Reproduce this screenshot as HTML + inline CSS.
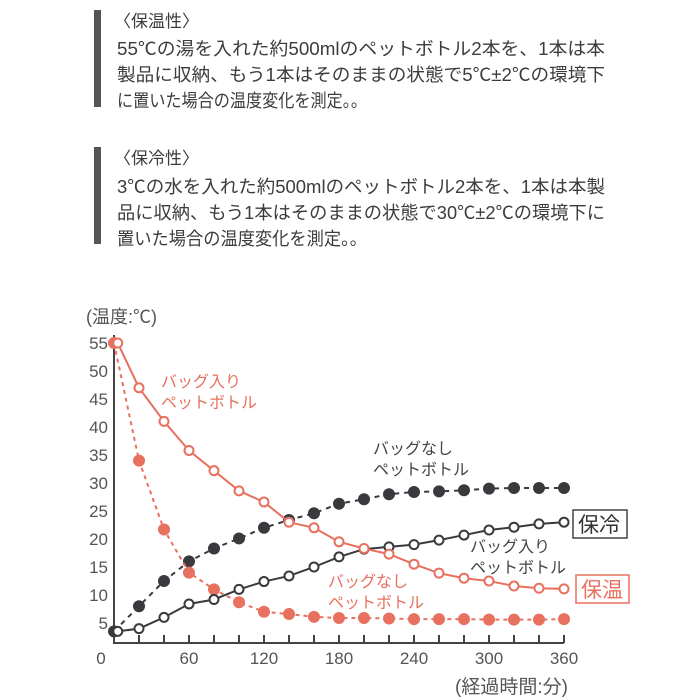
<!DOCTYPE html>
<html><head><meta charset="utf-8"><style>
html,body{margin:0;padding:0;background:#fff;}
svg{display:block;font-family:"Liberation Sans","Noto Sans CJK JP",sans-serif;}
</style></head><body>
<svg id="s" width="700" height="700" viewBox="0 0 700 700">
<rect x="94" y="10" width="7" height="97" fill="#555"/>
<rect x="94" y="147" width="7" height="97" fill="#555"/>
<g fill="#3c3c3c" font-size="18">
<text x="114" y="27" font-size="17">〈保温性〉</text>
<text x="117" y="55" textLength="488" lengthAdjust="spacingAndGlyphs">55℃の湯を入れた約500mlのペットボトル2本を、1本は本</text>
<text x="117" y="81" textLength="488" lengthAdjust="spacingAndGlyphs">製品に収納、もう1本はそのままの状態で5℃±2℃の環境下</text>
<text x="117" y="107" textLength="250" lengthAdjust="spacingAndGlyphs">に置いた場合の温度変化を測定。。</text>
<text x="114" y="164" font-size="17">〈保冷性〉</text>
<text x="117" y="193" textLength="488" lengthAdjust="spacingAndGlyphs">3℃の水を入れた約500mlのペットボトル2本を、1本は本製</text>
<text x="117" y="219" textLength="488" lengthAdjust="spacingAndGlyphs">品に収納、もう1本はそのままの状態で30℃±2℃の環境下に</text>
<text x="117" y="245" textLength="250" lengthAdjust="spacingAndGlyphs">置いた場合の温度変化を測定。。</text>
</g>
<g fill="#555">
<text x="86" y="323" font-size="18">(温度:℃)</text>
<text x="455" y="693" font-size="19">(経過時間:分)</text>
</g>
<g id="ax" stroke="#444" stroke-width="2" fill="none">
<line x1="114" y1="335" x2="114" y2="643"/>
<line x1="113" y1="643" x2="564" y2="643"/>
</g>
<g id="g"></g>
<g font-size="16" fill="#e8705f">
<text x="161" y="387">バッグ入り</text><text x="161" y="408">ペットボトル</text>
<text x="328" y="587">バッグなし</text><text x="328" y="608">ペットボトル</text>
</g>
<g font-size="16" fill="#444">
<text x="373" y="454">バッグなし</text><text x="373" y="475">ペットボトル</text>
<text x="470" y="552">バッグ入り</text><text x="470" y="573">ペットボトル</text>
</g>
<rect x="573" y="510" width="54" height="28" fill="#fff" stroke="#444" stroke-width="1.5"/>
<text x="578" y="532" font-size="21" fill="#333">保冷</text>
<rect x="576" y="575" width="53" height="28" fill="#fff" stroke="#e8705f" stroke-width="1.5"/>
<text x="581" y="597" font-size="21" fill="#e8705f">保温</text>
</svg>
<script>
var NS="http://www.w3.org/2000/svg",g=document.getElementById('g'),ax=document.getElementById('ax');
function X(t){return 114+t*1.25}function Y(v){return 343+(55-v)*5.6}
function el(n,a,p){var e=document.createElementNS(NS,n);for(var k in a)e.setAttribute(k,a[k]);(p||g).appendChild(e);return e}
for(var t=20;t<=360;t+=20)el('line',{x1:X(t),y1:643,x2:X(t),y2:635},ax);
for(var t=0;t<=360;t+=60)el('text',{x:X(t)+(t==0?-13:0),y:664,'text-anchor':'middle','font-size':17,fill:'#555'}).textContent=t;
for(var v=5;v<=55;v+=5)el('text',{x:108,y:Y(v)+6,'text-anchor':'end','font-size':17,fill:'#555'}).textContent=v;
var R='#e8705f',D='#3a3a3e';
var series=[
{c:D,dash:'5,5',fill:true,d:[3.5,8,12.5,16,18.3,20.1,22,23.4,24.6,26.3,27.1,28,28.4,28.5,28.7,29,29.1,29.1,29.1]},
{c:R,dash:'4,4',fill:true,d:[55,34,21.7,14,11,8.7,7,6.6,6.1,5.9,5.9,5.8,5.7,5.7,5.7,5.6,5.6,5.6,5.7]},
{c:D,dash:null,fill:false,d:[3.5,4,6,8.4,9.2,11,12.4,13.4,15,16.8,18.2,18.6,19,19.8,20.7,21.6,22.1,22.7,23]},
{c:R,dash:null,fill:false,d:[55,47,41,35.8,32.2,28.6,26.6,23,22,19.5,18.3,17.3,15.5,13.9,13,12.5,11.6,11.2,11.1]}
];
series.forEach(function(s){
 var pts=s.d.map(function(v,i){return [i==0?(s.fill?0:3):i*20,v]});
 var p=pts.map(function(q){return X(q[0])+','+Y(q[1])}).join(' ');
 var a={points:p,fill:'none',stroke:s.c,'stroke-width':2};if(s.dash)a['stroke-dasharray']=s.dash;
 el('polyline',a);
 pts.forEach(function(q){el('circle',{cx:X(q[0]),cy:Y(q[1]),r:s.fill?5:4.5,fill:s.fill?s.c:'#fff',stroke:s.c,'stroke-width':2})});
});
</script>
</body></html>
